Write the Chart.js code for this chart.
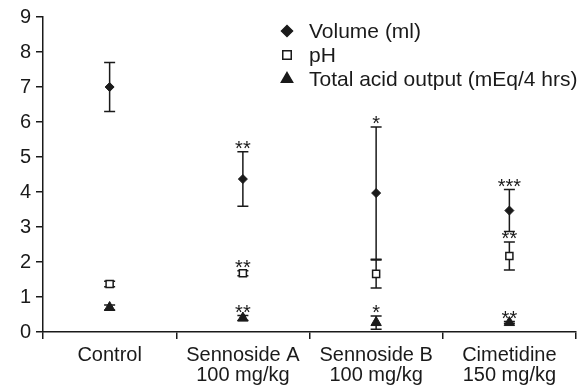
<!DOCTYPE html>
<html>
<head>
<meta charset="utf-8">
<script src="https://cdn.jsdelivr.net/npm/chart.js@4/dist/chart.umd.min.js"></script>
<style>
    html, body { margin: 0; padding: 0; background: #fff; }
    #chart { display: block; }
</style>
</head>
<body>
<canvas id="chart" width="584" height="390"></canvas>
<script>
// Groups on the x axis
const groups = [['Control'], ['Sennoside A', '100 mg/kg'], ['Sennoside B', '100 mg/kg'], ['Cimetidine', '150 mg/kg']];

// Volume (ml)
const volume = [7.0, 4.37, 3.97, 3.47];
const volumeErr = [0.7, 0.78, 1.89, 0.6];
const volumeStars = ['', '**', '*', '***'];

// pH
const ph = [1.37, 1.68, 1.66, 2.17];
const phErr = [0.08, 0.07, 0.4, 0.4];
const phStars = ['', '**', '', '**'];

// Total acid output (mEq/4 hrs)
const tao = [0.7, 0.4, 0.27, 0.27];
const taoErr = [0.07, 0.07, 0.19, 0.03];
const taoStars = ['', '**', '*', '**'];

const yTicks = [0, 1, 2, 3, 4, 5, 6, 7, 8, 9];

const ink = '#1a1a1a';
Chart.defaults.font.family = '"Liberation Sans", Arial, sans-serif';
Chart.defaults.color = ink;

// error bars under the points, stars and legend on top
const extras = {
    id: 'extras',
    beforeDatasetsDraw(chart) {
        const ctx = chart.ctx;
        const y = chart.scales.y;
        ctx.save();
        ctx.strokeStyle = ink;
        ctx.lineWidth = 1.5;
        chart.data.datasets.forEach((ds, i) => {
            chart.getDatasetMeta(i).data.forEach((pt, j) => {
                const hi = y.getPixelForValue(ds.data[j] + ds.errors[j]);
                const lo = y.getPixelForValue(ds.data[j] - ds.errors[j]);
                ctx.beginPath();
                ctx.moveTo(pt.x, hi); ctx.lineTo(pt.x, lo);
                ctx.moveTo(pt.x - 5.5, hi); ctx.lineTo(pt.x + 5.5, hi);
                ctx.moveTo(pt.x - 5.5, lo); ctx.lineTo(pt.x + 5.5, lo);
                ctx.stroke();
            });
        });
        ctx.restore();
    },
    afterDraw(chart) {
        const ctx = chart.ctx;
        const y = chart.scales.y;
        ctx.save();
        ctx.fillStyle = ink;
        ctx.textAlign = 'center';
        ctx.textBaseline = 'alphabetic';
        ctx.font = '20px "Liberation Sans", Arial, sans-serif';
        chart.data.datasets.forEach((ds, i) => {
            chart.getDatasetMeta(i).data.forEach((pt, j) => {
                if (!ds.stars[j]) return;
                const hi = y.getPixelForValue(ds.data[j] + ds.errors[j]);
                ctx.fillText(ds.stars[j], pt.x, hi + 3);
            });
        });

        // legend
        const rows = [31, 55, 79];
        ctx.font = '21px "Liberation Sans", Arial, sans-serif';
        ctx.textAlign = 'left';
        ctx.textBaseline = 'middle';
        chart.data.datasets.forEach((ds, i) => {
            ctx.fillStyle = ds.backgroundColor;
            ctx.strokeStyle = ink;
            ctx.lineWidth = 1.5;
            Chart.helpers.drawPoint(ctx, {
                pointStyle: ds.pointStyle,
                radius: ds.legendRadius,
                rotation: 0,
                borderWidth: 1.5
            }, 287, rows[i]);
            ctx.fillStyle = ink;
            ctx.fillText(ds.label, 309, rows[i] + 1);
        });
        ctx.restore();
    }
};

new Chart(document.getElementById('chart'), {
    type: 'line',
    data: {
        labels: groups,
        datasets: [{
            label: 'Volume (ml)',
            data: volume,
            errors: volumeErr,
            stars: volumeStars,
            showLine: false,
            pointStyle: 'rectRot',
            pointRadius: 4.5,
            legendRadius: 5.5,
            backgroundColor: ink,
            borderColor: ink,
            borderWidth: 1
        }, {
            label: 'pH',
            data: ph,
            errors: phErr,
            stars: phStars,
            showLine: false,
            pointStyle: 'rect',
            pointRadius: 5,
            legendRadius: 6,
            backgroundColor: '#fff',
            borderColor: ink,
            borderWidth: 1.5
        }, {
            label: 'Total acid output (mEq/4 hrs)',
            data: tao,
            errors: taoErr,
            stars: taoStars,
            showLine: false,
            pointStyle: 'triangle',
            pointRadius: 6,
            legendRadius: 6.5,
            backgroundColor: ink,
            borderColor: ink,
            borderWidth: 1
        }]
    },
    options: {
        responsive: false,
        animation: false,
        layout: { padding: { left: 0, right: 8, top: 15, bottom: 0 } },
        plugins: { legend: { display: false }, tooltip: { enabled: false } },
        scales: {
            x: {
                offset: true,
                grid: { offset: true, drawOnChartArea: false, tickLength: 7, color: ink, lineWidth: 1.5 },
                border: { color: ink, width: 1.5 },
                ticks: { font: { size: 20, lineHeight: 1.0 }, color: ink, padding: 6, maxRotation: 0, autoSkip: false },
                afterFit: s => { s.height = 58; }
            },
            y: {
                min: yTicks[0],
                max: yTicks[yTicks.length - 1],
                afterBuildTicks: s => { s.ticks = yTicks.map(v => ({ value: v })); },
                grid: { drawOnChartArea: false, tickLength: 7, color: ink, lineWidth: 1.5 },
                border: { color: ink, width: 1.5 },
                ticks: { font: { size: 20 }, color: ink, padding: 5 },
                afterFit: s => { s.width = 43; }
            }
        }
    },
    plugins: [extras]
});
</script>
</body>
</html>
